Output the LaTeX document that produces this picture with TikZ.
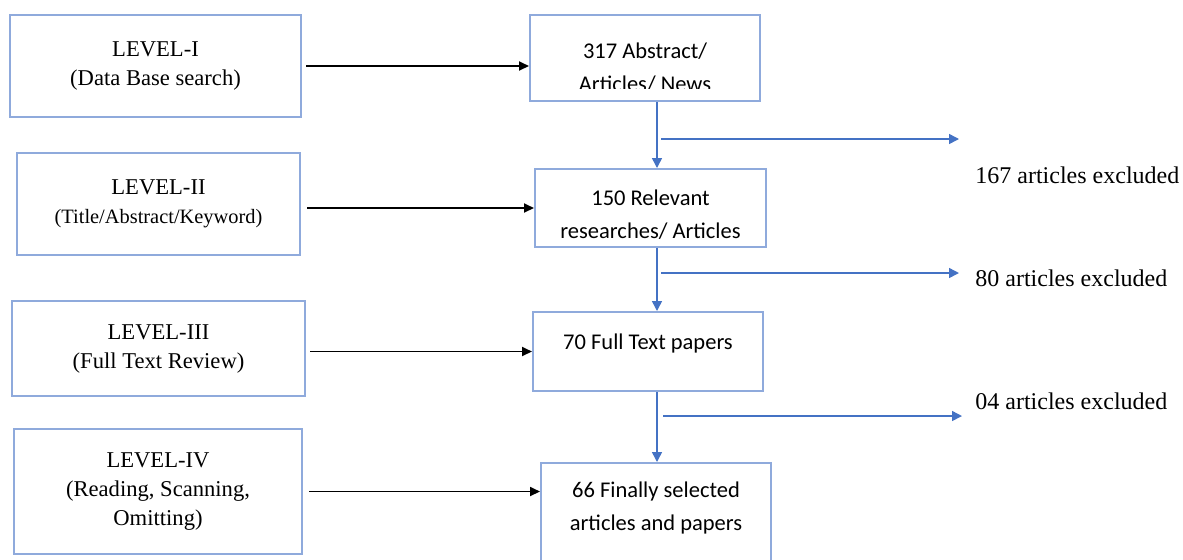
\documentclass[tikz,border=0pt]{standalone}
\usepackage{fontspec}
\setmainfont{Liberation Serif}
\newfontfamily\calib{Carlito}
\usepackage{xcolor}
\usepackage{tikz}
\usetikzlibrary{arrows.meta, positioning, calc}
\definecolor{boxline}{RGB}{143, 170, 220}
\definecolor{flowblue}{RGB}{68, 114, 196}
\tikzstyle{levelbox} = [rectangle, draw=boxline, line width=1pt, align=center, font=\fontsize{11.3}{14.5}\selectfont]
\tikzstyle{stagebox} = [rectangle, draw=boxline, line width=1pt, minimum width=115pt]
\tikzstyle{stagetext} = [align=center, inner sep=0pt, font=\calib\fontsize{11.25}{16.5}\selectfont]
\tikzstyle{exclabel} = [anchor=west, inner sep=0pt, font=\fontsize{12}{14}\selectfont]
\tikzstyle{arrow} = [line width=0.9pt, ->, >={Triangle[length=5pt, width=4.5pt]}]
\tikzstyle{flow} = [line width=0.75pt, draw=flowblue, ->, >={Triangle[length=5pt, width=5pt]}, flowblue]

\begin{document}
\begin{tikzpicture}[x=0.5pt, y=-0.5pt]
    \useasboundingbox (0, 0) rectangle (1183, 559);

    % Levels
    \node[levelbox, minimum width=145.5pt, minimum height=51pt] (lvl1) at (155.5, 66) {LEVEL-I\\(Data Base search)};
    \node[levelbox, minimum width=141.5pt, minimum height=51pt] (lvl2) at (158.5, 204) {LEVEL-II\\{\fontsize{10.2}{14.5}\selectfont (Title/Abstract/Keyword)}};
    \node[levelbox, minimum width=146.5pt, minimum height=47.5pt] (lvl3) at (158.5, 348.5) {LEVEL-III\\(Full Text Review)};
    \node[levelbox, minimum width=144pt, minimum height=62.5pt] (lvl4) at (158, 491.5) {LEVEL-IV\\(Reading, Scanning,\\Omitting)};

    % Stages
    \node[stagebox, minimum height=43pt] (abs) at (645, 58) {};
    \node[stagebox, minimum width=115.5pt, minimum height=39pt] (rel) at (650.5, 208) {};
    \node[stagebox, minimum height=39.5pt] (full) at (648, 351.5) {};
    \node[stagebox, minimum height=58.5pt] (fin) at (656, 521.5) {};

    \begin{scope}
        \clip (530, 15) rectangle (760, 88);
        \node[stagetext] (absT) at (645, 68) {317 Abstract/\\Articles/ News};
    \end{scope}
    \node[stagetext] (relT) at (650.5, 215) {150 Relevant\\researches/ Articles};
    \node[stagetext] (fullT) at (648, 343) {70 Full Text papers};
    \node[stagetext] (finT) at (656, 507.5) {66 Finally selected\\articles and papers};

    % Level to stage
    \draw[arrow, shorten <=2pt] (lvl1.east) -- (lvl1.east -| abs.west);
    \draw[arrow, shorten <=3pt] (lvl2.east |- rel.west) -- (rel.west);
    \draw[arrow, shorten <=2pt] (lvl3.east |- full.west) -- (full.west);
    \draw[arrow, shorten <=3pt] (lvl4.east) -- (lvl4.east -| fin.west);

    % Main flow
    \coordinate (trunk) at (657, 0);
    \draw[flow] (abs.south -| trunk) -- (rel.north -| trunk);
    \draw[flow] (rel.south -| trunk) -- (full.north -| trunk);
    \draw[flow] (full.south -| trunk) -- (fin.north -| trunk);

    % Exclusions
    \coordinate (out1) at (661, 139);
    \coordinate (end1) at (959, 139);
    \coordinate (out2) at (661, 273);
    \coordinate (end2) at (959, 273);
    \coordinate (out3) at (663, 416);
    \coordinate (end3) at (962, 416);
    \draw[flow] (out1) -- (end1);
    \draw[flow] (out2) -- (end2);
    \draw[flow] (out3) -- (end3);

    \node[exclabel] (exc1) at (975, 175) {167 articles excluded};
    \node[exclabel] (exc2) at (975, 278) {80 articles excluded};
    \node[exclabel] (exc3) at (975, 401) {04 articles excluded};
\end{tikzpicture}
\end{document}
